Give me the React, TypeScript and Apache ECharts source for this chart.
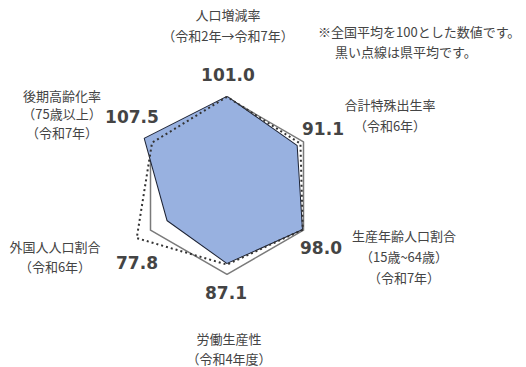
import React, { useEffect, useRef } from "react";
import * as echarts from "echarts";

// Indicator order (counter-clockwise from top, as ECharts radar lays them out)
const indicatorNames: string[][] = [
  ["人口増減率", "（令和2年→令和7年）"],
  ["後期高齢化率", "（75歳以上）", "（令和7年）"],
  ["外国人人口割合", "（令和6年）"],
  ["労働生産性", "（令和4年度）"],
  ["生産年齢人口割合", "（15歳~64歳）", "（令和7年）"],
  ["合計特殊出生率", "（令和6年）"],
];
const cityValues: number[] = [101.0, 107.5, 77.8, 87.1, 98.0, 91.1];
const prefValues: number[] = [101, 98, 118, 89, 99, 96];
const nationalValues: number[] = [100, 100, 100, 100, 100, 100];
const noteLines: string[] = ["※全国平均を100とした数値です。", "黒い点線は県平均です。"];

export default function App() {
  const ref = useRef<HTMLDivElement>(null);
  useEffect(() => {
    if (!ref.current) return;
    const chart = echarts.init(ref.current, null, { renderer: "svg" });
    const jp = '"Noto Sans CJK JP", sans-serif';
    const nameStyle = { fill: "#444", font: `13px ${jp}`, textAlign: "center", textVerticalAlign: "middle" };
    const numStyle = { fill: "#444", font: 'bold 17px "DejaVu Sans", sans-serif', textAlign: "center", textVerticalAlign: "middle" };

    // label layout positions (x, y of first line, line height)
    const namePos: [number, number, number][] = [
      [228, 14, 21],
      [62, 95, 18.5],
      [55, 246, 20],
      [229, 338, 20],
      [404, 235, 21],
      [390, 104, 21],
    ];
    const valuePos: [number, number][] = [
      [228, 75],
      [132, 117],
      [137, 263],
      [226, 293],
      [321, 248],
      [323, 129],
    ];

    const graphics: any[] = [];
    indicatorNames.forEach((lines, i) => {
      lines.forEach((t, j) => {
        graphics.push({
          type: "text",
          x: namePos[i][0],
          y: namePos[i][1] + j * namePos[i][2],
          style: { ...nameStyle, text: t },
        });
      });
      graphics.push({
        type: "text",
        x: valuePos[i][0],
        y: valuePos[i][1],
        style: { ...numStyle, text: cityValues[i].toFixed(1) },
      });
    });
    graphics.push({ type: "text", x: 318, y: 31, style: { fill: "#444", font: `13px ${jp}`, textVerticalAlign: "middle", text: noteLines[0] } });
    graphics.push({ type: "text", x: 335, y: 51, style: { fill: "#444", font: `13px ${jp}`, textVerticalAlign: "middle", text: noteLines[1] } });

    chart.setOption({
      animation: false,
      backgroundColor: "#ffffff",
      radar: {
        center: [227, 186],
        radius: 106,
        startAngle: 90,
        splitNumber: 4,
        indicator: indicatorNames.map((n) => ({ name: n[0], min: 0, max: 120 })),
        axisName: { show: false },
        axisLine: { show: false },
        splitLine: { show: false },
        splitArea: { show: false },
        axisTick: { show: false },
        axisLabel: { show: false },
      },
      series: [
        {
          type: "radar",
          z: 1,
          symbol: "none",
          lineStyle: { color: "#7a7a7a", width: 1.5 },
          data: [{ value: nationalValues, name: "全国" }],
        },
        {
          type: "radar",
          z: 2,
          symbol: "none",
          lineStyle: { color: "#1c2233", width: 2 },
          areaStyle: { color: "#98b1e0", opacity: 1 },
          data: [{ value: cityValues, name: "市" }],
        },
        {
          type: "radar",
          z: 3,
          symbol: "none",
          lineStyle: { color: "#333", width: 2, type: [2, 3] },
          data: [{ value: prefValues, name: "県平均" }],
        },
      ],
      graphic: graphics,
    });
    return () => chart.dispose();
  }, []);
  return (
    <div
      ref={ref}
      style={{ position: "fixed", left: 0, top: 0, width: 526, height: 367, background: "#fff" }}
    />
  );
}
